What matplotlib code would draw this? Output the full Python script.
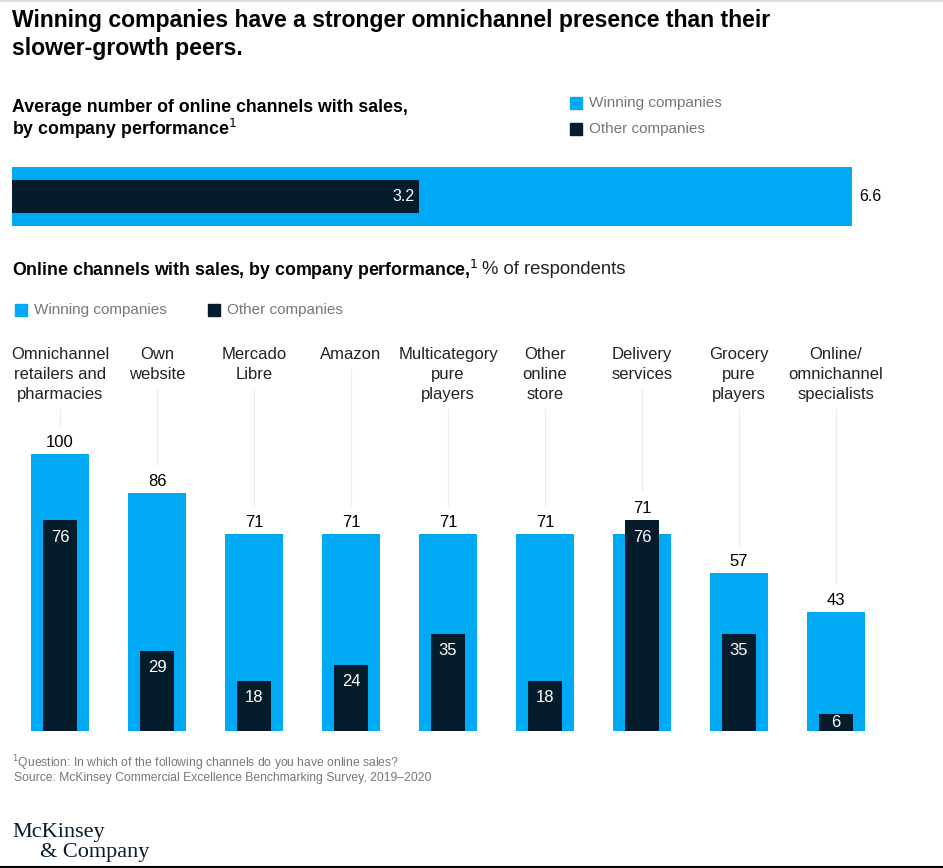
import matplotlib.pyplot as plt
from matplotlib.patches import Rectangle
from matplotlib.lines import Line2D

# Data
avg_labels = ["Winning companies", "Other companies"]
avg_values = [6.6, 3.2]

categories = ["Omnichannel\nretailers and\npharmacies", "Own\nwebsite", "Mercado\nLibre",
              "Amazon", "Multicategory\npure\nplayers", "Other\nonline\nstore",
              "Delivery\nservices", "Grocery\npure\nplayers", "Online/\nomnichannel\nspecialists"]
winning = [100, 86, 71, 71, 71, 71, 71, 57, 43]
other = [76, 29, 18, 24, 35, 18, 76, 35, 6]

BLUE = "#00A9F4"
DARK = "#051C2C"
GREY = "#777777"
W, H = 943, 868

plt.rcParams['font.family'] = ['Liberation Sans', 'DejaVu Sans']
fig = plt.figure(figsize=(W / 100, H / 100), dpi=100)


def fx(x):
    return x / W


def fy(y):
    return 1 - y / H


# title
fig.text(fx(12), fy(20), "Winning companies have a stronger omnichannel presence than their",
         fontsize=16.6, fontweight='bold', va='center', color='black')
fig.text(fx(12), fy(49), "slower-growth peers.",
         fontsize=16.6, fontweight='bold', va='center', color='black')

# subtitle 1
fig.text(fx(12), fy(107), "Average number of online channels with sales,",
         fontsize=12.8, fontweight='bold', va='center')
fig.text(fx(12), fy(129), "by company performance$^{1}$",
         fontsize=12.8, fontweight='bold', va='center')

# legend 1
for i, (lab, col) in enumerate(zip(avg_labels, [BLUE, DARK])):
    y = 103 + 26 * i
    fig.patches.append(Rectangle((fx(570), fy(y + 6)), 12 / W, 12 / H, color=col,
                                 transform=fig.transFigure, figure=fig))
    fig.text(fx(589), fy(y), lab, fontsize=11, color=GREY, va='center')

# top bar chart
ax1 = fig.add_axes([fx(12), 1 - 226 / H, 840 / W, 59 / H])
ax1.barh(0, avg_values[0], height=1.0, color=BLUE)
ax1.barh(0, avg_values[1], height=33 / 59, color=DARK)
ax1.set_xlim(0, avg_values[0])
ax1.set_ylim(-0.5, 0.5)
ax1.axis('off')
ax1.text(avg_values[0] + 0.06, 0, f"{avg_values[0]:.1f}", va='center', ha='left',
         fontsize=11.5, color='black', clip_on=False)
ax1.text(avg_values[1] - 0.04, 0, f"{avg_values[1]:.1f}", va='center', ha='right',
         fontsize=11.5, color='white')

# subtitle 2
t = fig.text(fx(12), fy(270), "Online channels with sales, by company performance,$^{1}$",
             fontsize=12.8, fontweight='bold', va='center')
fig.canvas.draw()
bb = t.get_window_extent()
fig.text(bb.x1 / W + 3 / W, fy(269), "% of respondents", fontsize=13.3, va='center',
         color='#222222')

# legend 2
for x, lab, col in [(15, "Winning companies", BLUE), (208, "Other companies", DARK)]:
    fig.patches.append(Rectangle((fx(x), fy(316)), 12 / W, 12 / H, color=col,
                                 transform=fig.transFigure, figure=fig))
    fig.text(fx(x + 19), fy(310), lab, fontsize=11, color=GREY, va='center')

# bottom bar chart
ax2 = fig.add_axes([fx(12), 137 / H, (885 - 12) / W, 277 / H])
xs = list(range(len(categories)))
ax2.bar(xs, winning, width=0.6, color=BLUE)
ax2.bar(xs, other, width=0.36, color=DARK)
ax2.set_xlim(-0.495, 8.505)
ax2.set_ylim(0, 100)
ax2.axis('off')

for i, (w, o, c) in enumerate(zip(winning, other, categories)):
    top = max(w, o)
    ax2.text(i, top + 4.2, str(w), ha='center', va='center', fontsize=12, color='black',
             clip_on=False)
    ax2.text(i, max(o - 6.0, o / 2), str(o), ha='center', va='center', fontsize=12,
             color='white')
    xpix = 60 + 97 * i
    lines = c.split('\n')
    for k, line in enumerate(lines):
        fig.text(fx(xpix), fy(355 + 20 * k), line, ha='center', va='center', fontsize=12,
                 color='#222222')
    y_start = 355 + 20 * (len(lines) - 1) + 14
    y_end = 731 - top * 2.77 - 28
    if y_end > y_start:
        fig.lines.append(Line2D([fx(xpix), fx(xpix)], [fy(y_start), fy(y_end)],
                                transform=fig.transFigure, color='#ececec', lw=0.8))

# footnote
fig.text(fx(12), fy(763), "$^{1}$Question: In which of the following channels do you have online sales?",
         fontsize=8.7, color=GREY, va='center')
fig.text(fx(14), fy(778), "Source: McKinsey Commercial Excellence Benchmarking Survey, 2019\u20132020",
         fontsize=8.7, color=GREY, va='center')

# logo
fig.text(fx(12), fy(832), "McKinsey", fontsize=16, family=['Liberation Serif', 'DejaVu Serif'],
         color=DARK, va='center')
fig.text(fx(40), fy(853), "& Company", fontsize=16, family=['Liberation Serif', 'DejaVu Serif'],
         color=DARK, va='center')

# borders
fig.lines.append(Line2D([0, 1], [fy(1), fy(1)], transform=fig.transFigure, color='#dddddd', lw=1.5))
fig.lines.append(Line2D([0, 1], [fy(866.5), fy(866.5)], transform=fig.transFigure, color='black', lw=1.5))

fig.savefig("out.png", dpi=100)
